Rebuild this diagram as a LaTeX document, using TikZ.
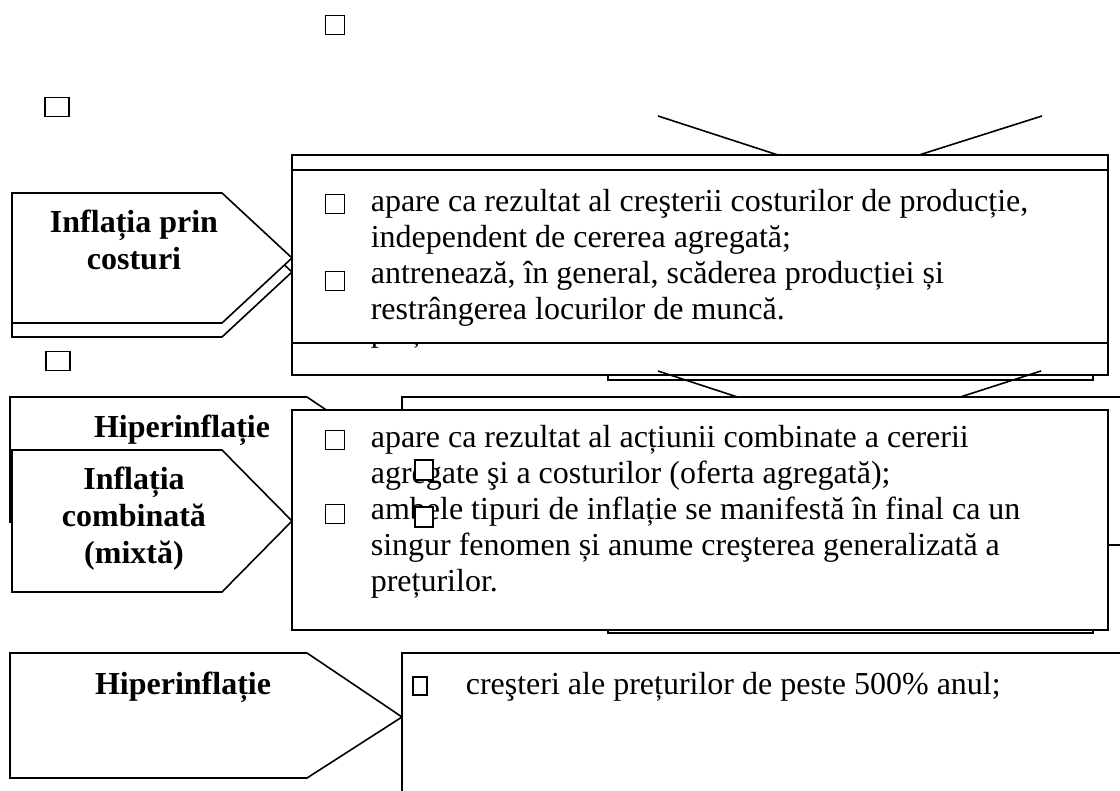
\documentclass[tikz,border=0pt]{standalone}
\usepackage{fontspec}
\setmainfont{Liberation Serif}
\usetikzlibrary{positioning}

\begin{document}
\begin{tikzpicture}[
    x=1pt, y=-1pt,
    line width=1.6pt,
    panel/.style={draw, fill=white},
    lbl/.style={anchor=base, inner sep=0pt, font=\fontsize{32}{37}\selectfont\bfseries},
    body/.style={anchor=base west, inner sep=0pt, font=\fontsize{32}{36}\selectfont},
    tick/.style={draw, fill=white, line width=1.3pt, minimum width=19pt,
      minimum height=19pt, inner sep=0pt}
  ]
    \path[use as bounding box, fill=white] (0,0) rectangle (1120,791);

    % loose squares
    \node[tick] (sqA) at (335,25) {};
    \node[tick, minimum width=24pt] (sqB) at (57,107) {};
    \node[tick, minimum width=24pt] (sqC) at (58,361) {};

    % first row
    \draw[panel] (12,207) -- (222,207) -- (292,272) -- (222,337) -- (12,337) -- cycle;
    \draw[panel] (608,355) rectangle (1093,380);
    \draw[panel] (292,155) rectangle (1108,375);
    \begin{scope}
      \clip (293,344) rectangle (1107,374);
      \node[body] (frag) at (370,342) {prețurilor.};
    \end{scope}
    \draw (292,343) -- (1108,343);
    \coordinate (t1) at (658,116);
    \coordinate (t2) at (1042,116);
    \draw (292,170) -- (1108,170);
    \draw (t1) -- (778,155);
    \draw (t2) -- (919,155);
    \draw[panel] (12,193) -- (222,193) -- (292,258) -- (222,323) -- (12,323) -- cycle;
    \node[lbl] (costuri) at (134,233) {\parbox[t]{260pt}{\centering Inflația prin\\costuri}};
    \node[body] (txtA) at (370,212) {\parbox[t]{730pt}{apare ca rezultat al creşterii costurilor de producție,\\
      independent de cererea agregată;\\
      antrenează, în general, scăderea producției și\\
      restrângerea locurilor de muncă.}};
    \node[tick] (a1) at (335,204) {};
    \node[tick] (a2) at (335,281) {};
    \coordinate (m1) at (658,371);
    \coordinate (m2) at (1041,371);
    \draw (m1) -- (777,410);
    \draw (m2) -- (920,410);

    % second row
    \draw[panel] (10,397) -- (307,397) -- (402,461) -- (307,522) -- (10,522) -- cycle;
    \node[lbl] (hipA) at (182,438) {Hiperinflație};
    \draw[panel] (402,397) rectangle (1124,545);
    \draw[panel] (608,600) rectangle (1093,633);
    \draw[panel] (292,410) rectangle (1108,630);
    \node[body] (txtB) at (370,448) {\parbox[t]{730pt}{apare ca rezultat al acțiunii combinate a cererii\\
      agregate şi a costurilor (oferta agregată);\\
      ambele tipuri de inflație se manifestă în final ca un\\
      singur fenomen și anume creşterea generalizată a\\
      prețurilor.}};
    \node[tick] (b1) at (335,440) {};
    \node[tick] (b2) at (335,514) {};
    \node[tick, minimum width=18pt, minimum height=20pt] (b3) at (424,470) {};
    \node[tick, minimum width=18pt, minimum height=20pt] (b4) at (424,517) {};
    \draw[panel] (12,450) -- (222,450) -- (292,521) -- (222,592) -- (12,592) -- cycle;
    \node[lbl] (mixta) at (134,490) {\parbox[t]{260pt}{\centering Inflația\\combinată\\(mixtă)}};

    % third row
    \draw[panel] (10,653) -- (307,653) -- (402,717) -- (307,778) -- (10,778) -- cycle;
    \node[lbl] (hipB) at (183,694) {Hiperinflație};
    \draw (1124,653) -- (402,653) -- (402,795);
    \node[tick, minimum width=14pt, minimum height=18pt] (c1) at (420,686) {};
    \node[body] (txtC) at (465,694) {creşteri ale prețurilor de peste 500\% anul;};
\end{tikzpicture}
\end{document}
